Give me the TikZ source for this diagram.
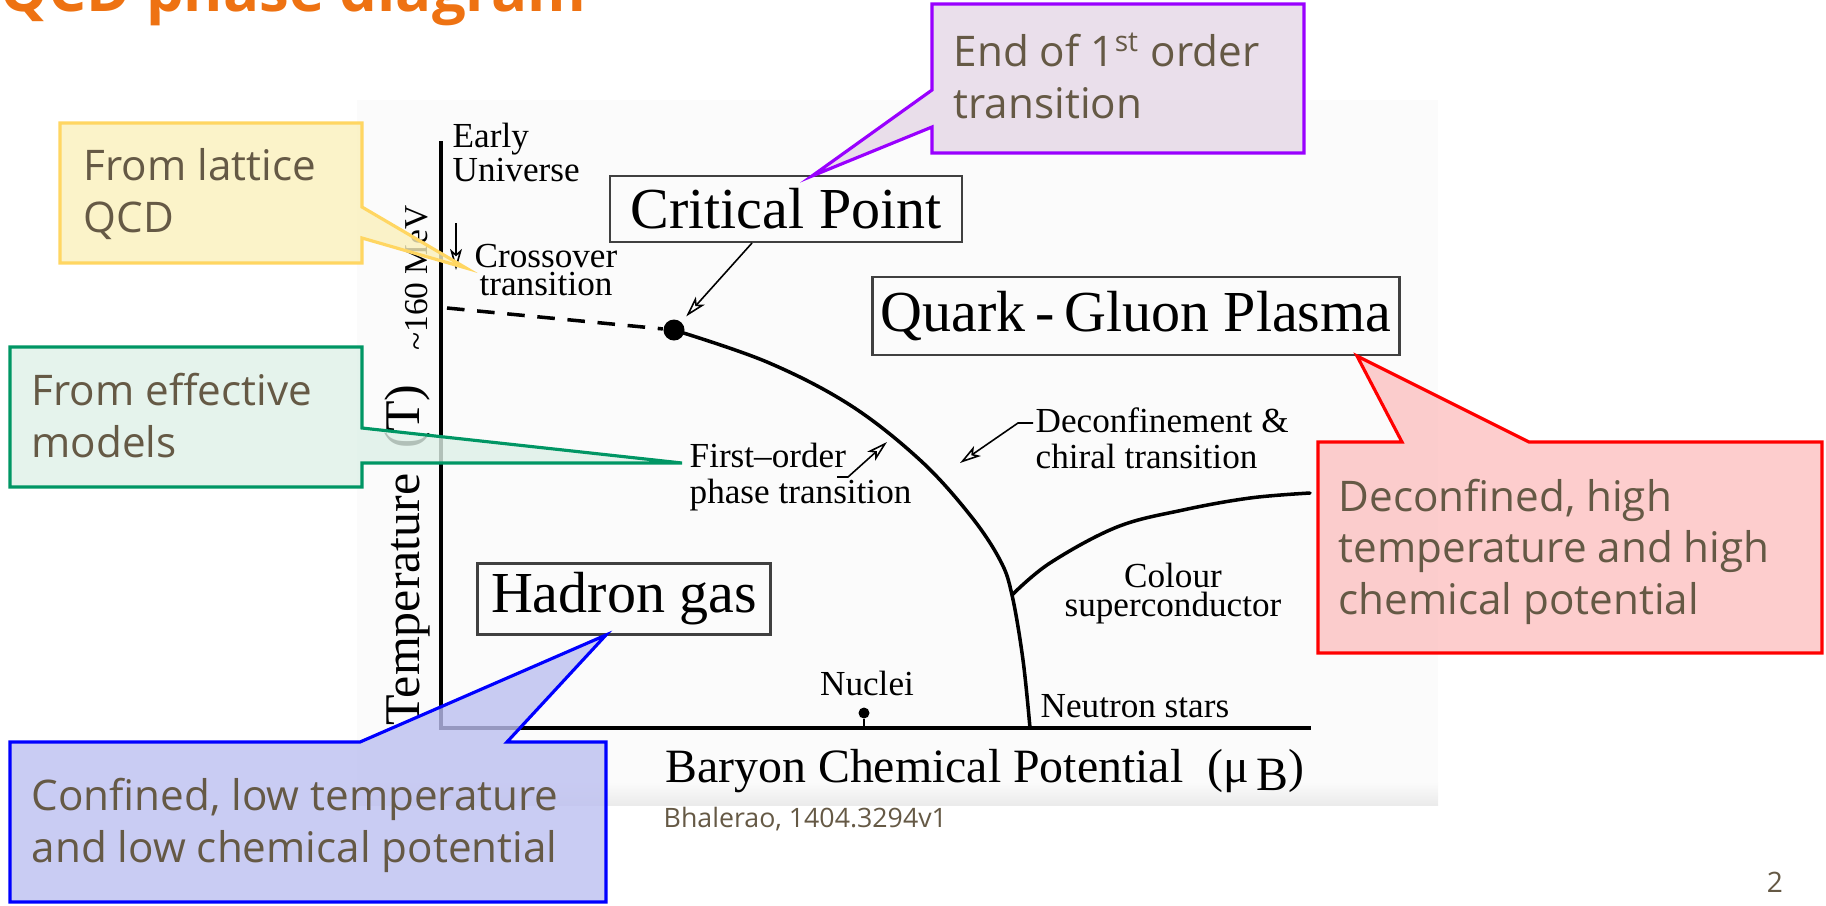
\documentclass[tikz,border=0pt]{standalone}
\usepackage{fontspec}
\setmainfont{Liberation Serif}
\newfontfamily\notefont{Open Sans}
\usetikzlibrary{arrows.meta}

\definecolor{titolo}{RGB}{238,114,18}
\definecolor{testonota}{RGB}{101,89,69}
\definecolor{giallobordo}{RGB}{255,214,98}
\definecolor{giallofondo}{RGB}{250,240,188}
\definecolor{verdebordo}{RGB}{0,150,100}
\definecolor{verdefondo}{RGB}{222,240,231}
\definecolor{violabordo}{RGB}{153,0,255}
\definecolor{violafondo}{RGB}{229,215,230}
\definecolor{rossobordo}{RGB}{255,0,0}
\definecolor{rossofondo}{RGB}{252,193,193}
\definecolor{blubordo}{RGB}{0,0,255}
\definecolor{blufondo}{RGB}{188,191,240}

\begin{document}
\begin{tikzpicture}[x=0.01cm, y=-0.01cm,
    asse/.style={line width=1pt},
    curva/.style={line width=1pt, line cap=round},
    freccina/.style={line width=0.45pt, -{Stealth[open, length=6pt, width=3.4pt, inset=1.5pt]}},
    scatola/.style={draw=black!75, line width=0.7pt, inner sep=0pt, font=\fontsize{16.5}{18}\selectfont},
    piccolo/.style={inner sep=0pt, font=\fontsize{10}{9.5}\selectfont},
    nota/.style={line width=0.9pt, fill opacity=0.8},
    testo/.style={inner sep=0pt, anchor=base west, align=left, text=testonota, font=\notefont\fontsize{12}{14.6}\selectfont}]

    % area
    \useasboundingbox (0,0) rectangle (1826,905);
    \clip (0,0) rectangle (1826,905);

    % sfondo della figura
    \fill[black!1.5] (357,100) rectangle (1438,805);
    \shade[top color=black!1.5, bottom color=black!8] (357,782) rectangle (1438,805);

    % assi
    \coordinate (origine) at (441,728);
    \coordinate (cima) at (441,141);
    \coordinate (fondo) at (1311,728);
    \draw[asse] (cima) -- (origine) -- (fondo);

    % punto critico e linee di transizione
    \node[circle, fill, inner sep=0pt, minimum size=0.21cm] (cpdot) at (674,330) {};
    \coordinate (crossinizio) at (447,308);
    \draw[asse, dash pattern=on 5pt off 3.6pt] (crossinizio) -- (cpdot);
    \coordinate (giunto) at (1012,595);
    \coordinate (stelle) at (1030,728);
    \draw[curva] plot[smooth, tension=0.6] coordinates {(674,330) (767,362) (850,405) (920,460) (970,515) (1000,560) (giunto) (1023,660) (stelle)};
    \draw[curva] plot[smooth, tension=0.6] coordinates {(giunto) (1050,563) (1117,527) (1183,510) (1250,498) (1310,493)};

    % nuclei
    \node[circle, fill, inner sep=0pt, minimum size=0.11cm] (nucdot) at (864,713) {};
    \draw[line width=0.6pt] (nucdot) -- (nucdot |- origine);

    % scatole
    \node[scatola, minimum width=3.52cm, minimum height=0.66cm] (cpbox) at (786,209) {Critical Point};
    \node[scatola, minimum width=5.27cm, minimum height=0.78cm] (qgpbox) at (1136,316) {Quark\,-\,Gluon Plasma};
    \node[scatola, minimum width=2.93cm, minimum height=0.71cm] (hgbox) at (624,599) {Hadron gas};

    % etichette piccole (base = ultima riga)
    \node[piccolo, anchor=base west, align=left] (early) at (452,181) {Early\\Universe};
    \node[piccolo, anchor=base, align=center, font=\fontsize{10}{7.7}\selectfont] (cross) at (546,295) {Crossover\\transition};
    \node[piccolo, anchor=base west, align=left, font=\fontsize{10}{10}\selectfont] (primo) at (689,503) {First--order\\phase transition};
    \node[piccolo, anchor=base west, align=left, font=\fontsize{10}{10.2}\selectfont] (deco) at (1035,468) {Deconfinement \&\\chiral transition};
    \node[piccolo, anchor=base, align=center, font=\fontsize{10}{6.8}\selectfont] (colore) at (1173,616) {Colour\\superconductor};
    \node[piccolo, anchor=base west] (neutroni) at (1040,717) {Neutron stars};
    \node[piccolo, anchor=base] (nuclei) at (867,695) {Nuclei};
    \node[piccolo, rotate=90, font=\fontsize{9.5}{9.5}\selectfont] (mev) at (417,278) {\textasciitilde160 MeV};

    % assi: etichette
    \node[inner sep=0pt, rotate=90, font=\fontsize{14.2}{16}\selectfont] (tlabel) at (407,555) {Temperature\ \ (T)};
    \node[inner sep=0pt, anchor=base, font=\fontsize{13.6}{16}\selectfont] (mulabel) at (985,782) {Baryon Chemical Potential\ \ (μ\,\raisebox{-0.4ex}{B})};

    % frecce
    \coordinate (cppiede) at (752,243);
    \draw[freccina, shorten >=2pt] (cppiede) -- (cpdot);
    \coordinate (crosscima) at (456,223);
    \coordinate (crossfondo) at (456,270);
    \draw[freccina] (crosscima) -- (crossfondo);
    \coordinate (fopiede) at (837,477);
    \coordinate (fopunta) at (887,442);
    \draw[freccina] (fopiede) -- ++(11,0) -- (fopunta);
    \coordinate (decopiede) at (1033,423);
    \coordinate (decopunta) at (960,463);
    \draw[freccina] (decopiede) -- ++(-15,0) -- (decopunta);

    % note
    \coordinate (giallopunta) at (466,268);
    \path[nota, draw=giallobordo, fill=giallofondo] (60,123) -- (362,123) -- (362,207) -- (giallopunta) -- (362,238) -- (362,263) -- (60,263) -- cycle;
    \node[testo] (reticolo) at (83,232) {From lattice\\QCD};

    \coordinate (verdepunta) at (682,463);
    \path[nota, draw=verdebordo, fill=verdefondo] (10,347) -- (362,347) -- (362,428) -- (verdepunta) -- (362,463) -- (362,487) -- (10,487) -- cycle;
    \node[testo] (modelli) at (31,457) {From effective\\models};

    \coordinate (violapunta) at (812,176);
    \path[nota, draw=violabordo, fill=violafondo] (932,4) -- (1304,4) -- (1304,153) -- (932,153) -- (932,127) -- (violapunta) -- (932,90) -- cycle;
    \node[testo] (fine) at (953,118) {End of 1\textsuperscript{st} order\\transition};

    \coordinate (rossopunta) at (1357,356);
    \path[nota, draw=rossobordo, fill=rossofondo] (1318,442) -- (1402,442) -- (rossopunta) -- (1529,442) -- (1822,442) -- (1822,653) -- (1318,653) -- cycle;
    \node[testo] (deconf) at (1338,614) {Deconfined, high\\temperature and high\\chemical potential};

    \coordinate (blupunta) at (606,635);
    \path[nota, draw=blubordo, fill=blufondo] (10,742) -- (360,742) -- (blupunta) -- (507,742) -- (606,742) -- (606,902) -- (10,902) -- cycle;
    \node[testo] (conf) at (31,862) {Confined, low temperature\\and low chemical potential};

    % titolo, fonte, pagina
    \node[inner sep=0pt, anchor=base west, text=titolo, font=\notefont\bfseries\fontsize{17}{20}\selectfont] (intestazione) at (0,11) {QCD phase diagram};
    \node[inner sep=0pt, anchor=base west, text=testonota, font=\notefont\fontsize{7.6}{9}\selectfont] (fonte) at (663,827) {Bhalerao, 1404.3294v1};
    \node[inner sep=0pt, anchor=base, text=testonota, font=\notefont\fontsize{8}{9}\selectfont] (pagina) at (1775,892) {2};

\end{tikzpicture}
\end{document}
